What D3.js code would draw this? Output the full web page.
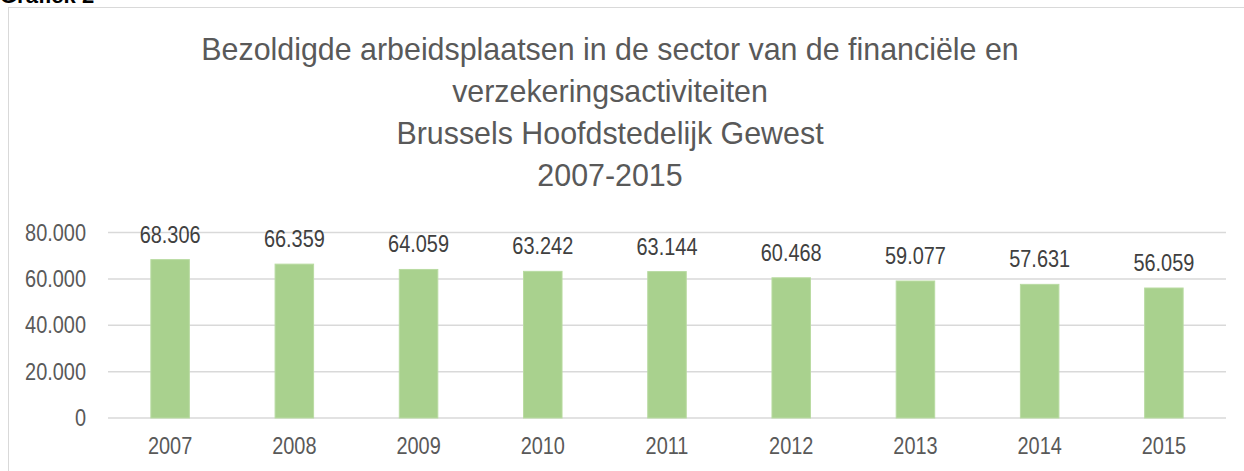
<!DOCTYPE html>
<html>
<head>
<meta charset="utf-8">
<script src="https://cdn.jsdelivr.net/npm/d3@7"></script>
<style>
  body { margin: 0; background: #fff; }
  svg text { font-family: "Liberation Sans", Arial, sans-serif; }
</style>
</head>
<body>
<div id="chart"></div>
<script>
const years = ["2007", "2008", "2009", "2010", "2011", "2012", "2013", "2014", "2015"];
const jobs = [68306, 66359, 64059, 63242, 63144, 60468, 59077, 57631, 56059];
const yTicks = [0, 20000, 40000, 60000, 80000];
const titleLines = [
    "Bezoldigde arbeidsplaatsen in de sector van de financiële en",
    "verzekeringsactiviteiten",
    "Brussels Hoofdstedelijk Gewest",
    "2007-2015"
];

const width = 1244, height = 471;
const plot = { left: 108, right: 1226, top: 232.5, bottom: 418 };
const narrow = 0.83; // labels use a condensed face

// dutch number format: 68.306
const fmt = n => d3.format(",")(n).replace(/,/g, ".");

const svg = d3.select("#chart").append("svg")
    .attr("width", width)
    .attr("height", height);

// caption above the frame, mostly cut off in the source too
svg.append("text")
    .attr("x", 0)
    .attr("y", 3)
    .attr("font-size", "22px")
    .attr("font-weight", "bold")
    .attr("fill", "#000")
    .text("Grafiek 2");

// chart frame
svg.append("rect")
    .attr("x", 8.5)
    .attr("y", 7.5)
    .attr("width", 1260)
    .attr("height", 480)
    .attr("fill", "#fff")
    .attr("stroke", "#d9d9d9")
    .attr("stroke-width", 1);

svg.append("g")
    .selectAll("text")
    .data(titleLines)
    .enter().append("text")
    .attr("text-anchor", "middle")
    .attr("font-size", "31px")
    .attr("fill", "#595959")
    .attr("transform", (d, i) => `translate(610,${59.5 + i * 42}) scale(0.98,1)`)
    .text(d => d);

const x = d3.scaleBand()
    .domain(years)
    .range([plot.left, plot.right])
    .padding(0);

const y = d3.scaleLinear()
    .domain([0, 80000])
    .range([plot.bottom, plot.top]);

const barWidth = x.bandwidth() * 0.31;

// gridlines
svg.append("g")
    .selectAll("line")
    .data(yTicks)
    .enter().append("line")
    .attr("x1", plot.left)
    .attr("x2", plot.right)
    .attr("y1", d => y(d))
    .attr("y2", d => y(d))
    .attr("stroke", "#d9d9d9")
    .attr("stroke-width", 1.5);

// y axis labels
const yAxis = svg.append("g")
    .attr("transform", `translate(${plot.left - 22},0)`)
    .call(d3.axisLeft(y).tickValues(yTicks).tickFormat(fmt).tickSize(0).tickPadding(0));
yAxis.select(".domain").remove();
yAxis.selectAll("text")
    .attr("font-size", "24px")
    .attr("fill", "#595959")
    .attr("transform", `scale(${narrow},1)`);

// x axis labels
const xAxis = svg.append("g")
    .attr("transform", `translate(0,${plot.bottom})`)
    .call(d3.axisBottom(x).tickSize(0).tickPadding(19));
xAxis.select(".domain").remove();
xAxis.selectAll("text")
    .attr("font-size", "24px")
    .attr("fill", "#595959")
    .attr("transform", `scale(${narrow},1)`);

// bars
svg.append("g")
    .selectAll("rect")
    .data(jobs)
    .enter().append("rect")
    .attr("x", (d, i) => x(years[i]) + (x.bandwidth() - barWidth) / 2)
    .attr("y", d => y(d))
    .attr("width", barWidth)
    .attr("height", d => y(0) - y(d))
    .attr("fill", "#a9d18e")
    .attr("stroke", "#b9dba2")
    .attr("stroke-width", 1);

// value labels
svg.append("g")
    .selectAll("text")
    .data(jobs)
    .enter().append("text")
    .attr("transform", (d, i) => `translate(${x(years[i]) + x.bandwidth() / 2},${y(d) - 17}) scale(${narrow},1)`)
    .attr("text-anchor", "middle")
    .attr("font-size", "24px")
    .attr("fill", "#404040")
    .text(d => fmt(d));
</script>
</body>
</html>
